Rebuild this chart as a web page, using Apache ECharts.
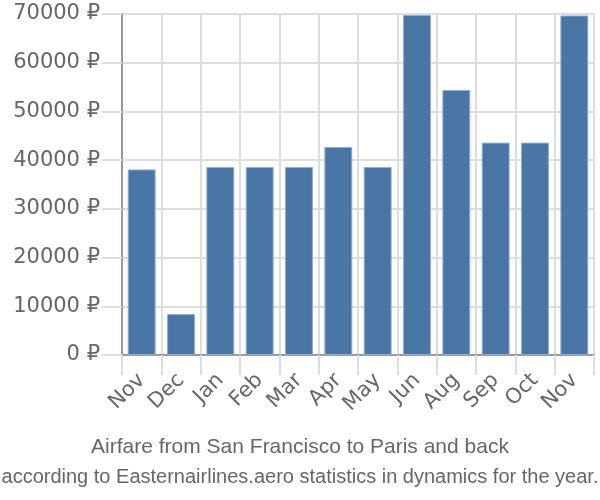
<!DOCTYPE html>
<html>
<head>
<meta charset="utf-8">
<script src="https://cdn.jsdelivr.net/npm/echarts@6/dist/echarts.min.js"></script>
<style>html,body{margin:0;padding:0;background:#fff}#c{width:600px;height:500px}</style>
</head>
<body>
<div id="c"></div>
<script>
const categories = ["Nov","Dec","Jan","Feb","Mar","Apr","May","Jun","Aug","Sep","Oct","Nov"];
const prices = [38100, 8400, 38600, 38600, 38600, 42700, 38600, 69800, 54400, 43600, 43600, 69700];
const titleText = "Airfare from San Francisco to Paris and back";
const subtitleText = "according to Easternairlines.aero statistics in dynamics for the year.";

const chart = echarts.init(document.getElementById('c'));
chart.setOption({
  animation: false,
  title: [{
    text: titleText,
    left: 'center', top: 432,
    textStyle: {fontFamily: 'Liberation Sans, Arial', fontSize: 21, fontWeight: 'normal', color: '#666'}
  },{
    text: subtitleText,
    left: 'center', top: 462,
    textStyle: {fontFamily: 'Liberation Sans, Arial', fontSize: 20, fontWeight: 'normal', color: '#666'}
  }],
  grid: {left: 122, right: 6, top: 14, bottom: 145, containLabel: false},
  xAxis: {
    type: 'category', data: categories,
    axisLine: {lineStyle: {color: '#999', width: 2}},
    axisTick: {show: true, length: 20, alignWithLabel: false, lineStyle: {color: '#ddd', width: 2}},
    splitLine: {show: true, lineStyle: {color: '#ddd', width: 2}},
    axisLabel: {rotate: 45, fontFamily: 'DejaVu Sans', fontSize: 21, color: '#666', margin: 22, interval: 0}
  },
  yAxis: {
    type: 'value', min: 0, max: 70000, interval: 10000,
    axisLine: {show: true, lineStyle: {color: '#999', width: 2}},
    axisTick: {show: true, length: 20, lineStyle: {color: '#ddd', width: 2}},
    splitLine: {show: true, lineStyle: {color: '#ddd', width: 2}},
    axisLabel: {fontFamily: 'DejaVu Sans', fontSize: 21, color: '#666', margin: 22,
      formatter: v => v + ' ₽'}
  },
  series: [{
    type: 'bar', data: prices, barCategoryGap: '29%',
    itemStyle: {color: '#4a76a6', borderColor: '#8fb0d4', borderWidth: 1}
  }]
});
</script>
</body>
</html>
